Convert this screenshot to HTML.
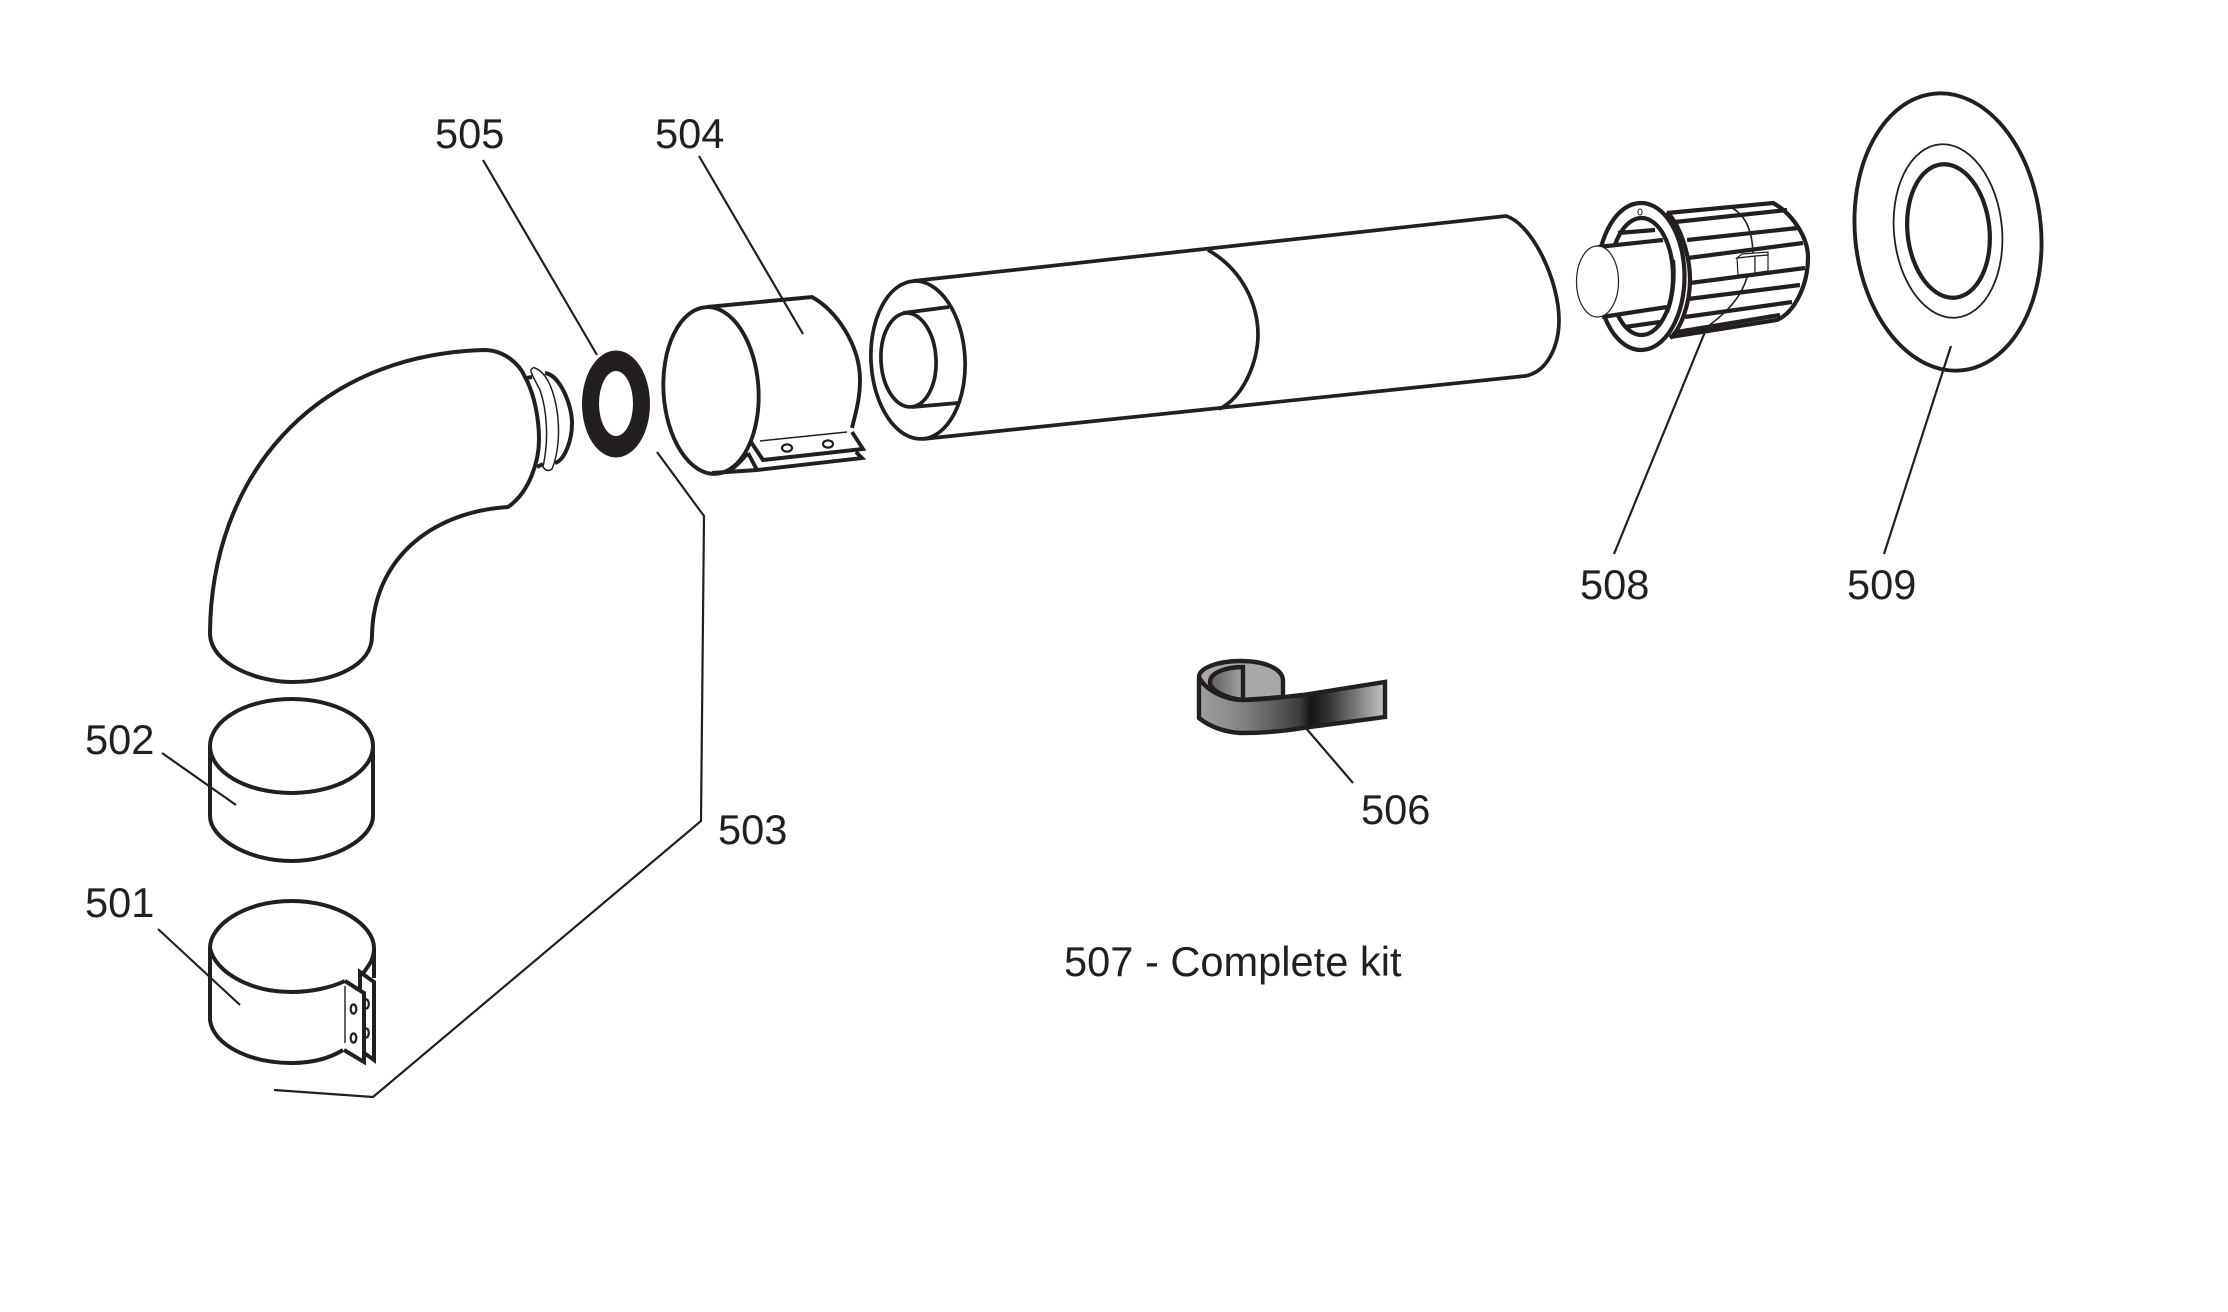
<!DOCTYPE html>
<html><head><meta charset="utf-8"><title>Kit diagram</title>
<style>html,body{margin:0;padding:0;background:#fff}svg{display:block}text{font-family:"Liberation Sans",sans-serif;font-size:41.6px;fill:#231f20}</style></head>
<body>
<svg width="2228" height="1312" viewBox="0 0 2228 1312" xmlns="http://www.w3.org/2000/svg">
<defs>
<linearGradient id="band" gradientUnits="userSpaceOnUse" x1="1199" y1="0" x2="1385" y2="0">
<stop offset="0" stop-color="#a0a0a0"/><stop offset=".25" stop-color="#808080"/><stop offset=".54" stop-color="#3c3c3c"/><stop offset=".6" stop-color="#161616"/><stop offset=".7" stop-color="#333"/><stop offset="1" stop-color="#c6c6c6"/>
</linearGradient>
<linearGradient id="inner" gradientUnits="userSpaceOnUse" x1="1210" y1="0" x2="1243" y2="0">
<stop offset="0" stop-color="#5e5e5e"/><stop offset="1" stop-color="#a2a2a2"/>
</linearGradient>
</defs>
<rect width="2228" height="1312" fill="#fff"/>

<!-- leaders -->
<g fill="none" stroke="#231f20" stroke-width="2.2">
<path d="M483,160L597,355"/>
<path d="M699,156L803,334"/>
<path d="M657,452L704,516L701,821L373,1097L274,1090"/>
<path d="M162,753L236,805"/>
<path d="M158,929L240,1005"/>
<path d="M1305,727L1353,783"/>
<path d="M1614,554L1707,327"/>
<path d="M1884,554L1951,346"/>
</g>

<!-- elbow -->
<g fill="#fff" stroke="#231f20" stroke-linejoin="round">
<path fill="none" stroke-width="4" d="M210,633C211,480 310,355 484,350C505,350 520,365 525,377C535,395 539,420 539,440C539,460 530,492 508,507C430,512 373,560 372,636C372,665 335,682 291,682C260,682 210,665 210,633Z"/>
<path fill="none" stroke-width="4" d="M545,373C560,375 572,405 572,423C572,440 565,460 555,463M537,467L543,464M527,378L532,377"/>
<path fill="#fff" stroke-width="1.5" d="M535,368C545,372 552,385 556,405C561,430 558,455 552,469C548,472 545,470 543,467C549,440 547,410 540,390C535,380 530,372 531,370C532,368 534,367 535,368Z"/>
</g>

<!-- ring 505 -->
<ellipse cx="616" cy="404" rx="34" ry="53.5" fill="#231f20"/>
<ellipse cx="616" cy="403.5" rx="17" ry="32.5" fill="#fff"/>

<!-- 504 sleeve -->
<g fill="#fff" stroke="#231f20" stroke-width="3.9" stroke-linejoin="miter">
<path fill="none" d="M707,307L812,297C836,310 860,345 860,380C860,400 855,415 852,428"/>
<path fill="none" d="M712,473L757,470L862,458L856,452"/>
<path fill="none" d="M748,453L757,470"/>
<path fill="none" d="M748,453C742,460 735,468 727,472"/>
<ellipse cx="711" cy="390.5" rx="47.5" ry="83.5" transform="rotate(-3.4 711 390.5)" fill="none"/>
<path d="M751,442L763,460L863,449L852,432" fill="#fff"/>
<ellipse cx="787" cy="448" rx="5" ry="3.6" stroke-width="2.2"/>
<ellipse cx="828" cy="444" rx="5" ry="3.6" stroke-width="2.2"/>
<path d="M760,441L847,432" stroke-width="1.5" fill="none"/>
</g>

<!-- pipe -->
<g fill="none" stroke="#231f20" stroke-width="3.7">
<path d="M913,281L1506,216C1532,224 1559,280 1559,320C1559,345 1548,372 1525,376L923,439"/>
<path d="M1208,250C1243,270 1258,305 1258,335C1258,362 1243,398 1219,409"/>
<ellipse cx="918" cy="360" rx="47" ry="79" transform="rotate(-3 918 360)"/>
<ellipse cx="908.5" cy="360" rx="27.5" ry="47" transform="rotate(-3 908.5 360)"/>
<path d="M903,313L949,307M912,407L958,403"/>
</g>

<!-- 508 -->
<g fill="none" stroke="#231f20" stroke-width="4.2">
<path d="M1667,213L1773,203C1795,215 1808,240 1808,257C1808,285 1795,312 1777,320L1670,337"/>
<path d="M1675,222L1787,210M1687,240L1798,228M1688,258L1803,243M1690,283L1805,268M1688,299L1800,285M1685,317L1792,302M1677,332L1780,315"/>
<path d="M1732,208C1745,215 1753,230 1753,257" stroke-width="1.6"/>
<path d="M1747,277C1742,295 1730,310 1707,327" stroke-width="1.6"/>
<path d="M1667,212C1680,225 1690,255 1690,280C1690,305 1680,330 1670,338"/>
<ellipse cx="1641" cy="276.5" rx="43.5" ry="73.5" fill="#fff"/>
<ellipse cx="1641.5" cy="276.5" rx="31.5" ry="58.5" fill="#fff"/>
<path d="M1618,233L1655,230M1625,327L1660,322"/>
<path d="M1598,247L1663,240L1668,280L1667,307L1602,317Z" fill="#fff" stroke="none"/>
<path d="M1598,247L1663,240M1602,317L1667,307"/>
<path d="M1673,260C1675,280 1672,300 1667,312"/>
<ellipse cx="1597.5" cy="281.5" rx="21" ry="35.5" fill="#fff" stroke-width="1.2"/>
<ellipse cx="1640" cy="212" rx="2" ry="3" stroke-width="1" fill="#fff"/>
<g fill="#fff" stroke-width="1.2">
<path d="M1737,258L1755,256V273L1738,275Z"/>
<path d="M1755,256L1768,255V271L1755,273Z"/>
<path d="M1737,258L1742,254L1768,252V255L1755,256Z"/>
</g>
</g>

<!-- 509 -->
<g fill="none" stroke="#231f20">
<ellipse cx="1948" cy="232" rx="93" ry="139" stroke-width="3.9" transform="rotate(-5.6 1948 232)"/>
<ellipse cx="1948" cy="231" rx="54" ry="87" stroke-width="1.8" transform="rotate(-5.6 1948 231)"/>
<ellipse cx="1948.5" cy="231" rx="41" ry="67" stroke-width="4.2" transform="rotate(-6 1948.5 231)"/>
</g>

<!-- 502 -->
<g fill="none" stroke="#231f20" stroke-width="4">
<ellipse cx="291.5" cy="746" rx="81.5" ry="47"/>
<path d="M210,746V816C210,838 248,861 291.5,861C335,861 373,838 373,816V746"/>
</g>

<!-- 501 -->
<g fill="none" stroke="#231f20" stroke-width="4">
<path d="M210,948C210,925 245,901 291.5,901C338,901 374,925 374,948C374,962 366,968 360,978"/>
<path d="M210,948C215,972 250,992 291.5,992C310,992 330,988 345,981"/>
<path d="M210,948V1020C213,1045 250,1063 291.5,1063C312,1063 330,1058 343,1050"/>
<path d="M374,948V978"/>
<path d="M360,972L374,982V1060L360,1050Z" fill="#fff"/>
<path d="M345,981L364,993V1062L344,1050" fill="#fff"/>
<path d="M345,986V1043" stroke-width="1.4"/>
<ellipse cx="353.5" cy="1009" rx="2.8" ry="4.6" stroke-width="2.2"/>
<ellipse cx="353.5" cy="1038" rx="2.8" ry="4.6" stroke-width="2.2"/>
<ellipse cx="366" cy="1004" rx="2.8" ry="4.6" stroke-width="2.2"/>
<ellipse cx="366" cy="1033" rx="2.8" ry="4.6" stroke-width="2.2"/>
</g>

<!-- 506 tape -->
<g stroke="#231f20" stroke-width="4.4" stroke-linejoin="miter">
<path d="M1199,677C1199,668 1218,661 1240,661C1264,661 1282,668 1283,680V697L1243,700C1225,700 1205,690 1199,677Z" fill="#a8a8a8"/>
<path d="M1243,667C1225,667 1210,673 1210,682C1210,690 1225,698 1243,700Z" fill="url(#inner)"/>
<path d="M1199,677C1205,690 1225,700 1243,700C1265,700 1283,697 1303,695L1385,682V717L1303,728C1280,732 1255,733 1240,733C1225,732 1210,727 1199,718Z" fill="url(#band)"/>
</g>

<!-- labels -->
<text x="435" y="148">505</text>
<text x="655" y="148">504</text>
<text x="85" y="754">502</text>
<text x="85" y="917">501</text>
<text x="718" y="844">503</text>
<text x="1361" y="824">506</text>
<text x="1064" y="976">507 - Complete kit</text>
<text x="1580" y="599">508</text>
<text x="1847" y="599">509</text>
</svg>
</body></html>
